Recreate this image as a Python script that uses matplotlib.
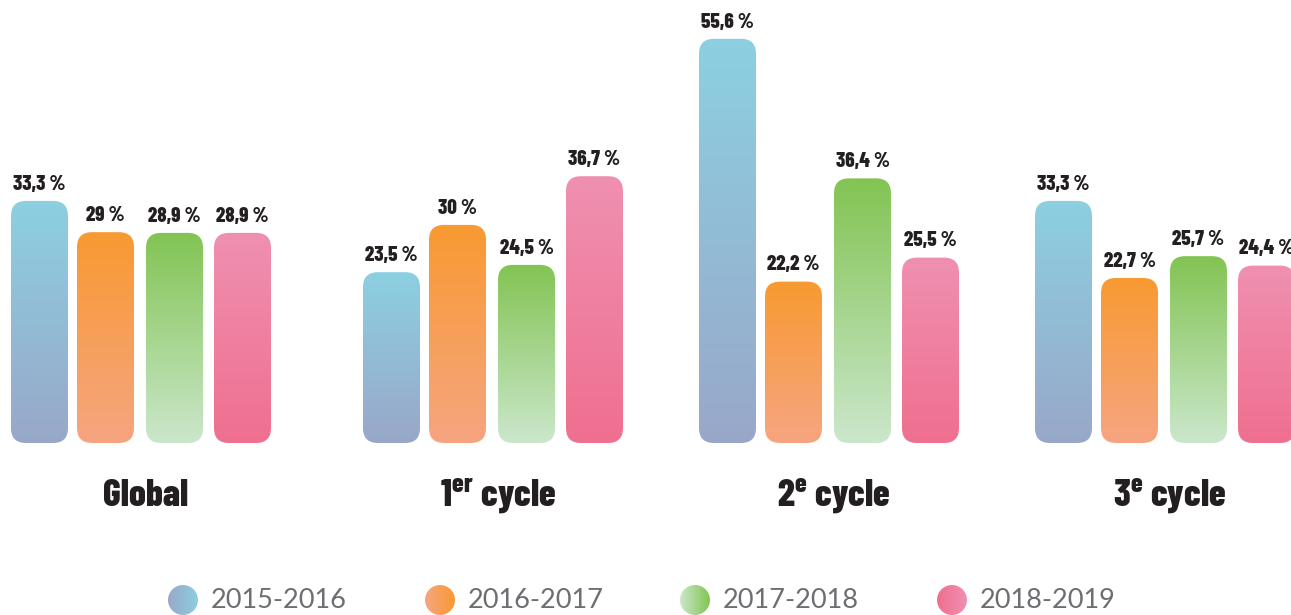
import numpy as np
import matplotlib
matplotlib.use("Agg")
import matplotlib.pyplot as plt
from matplotlib.patches import FancyBboxPatch, Ellipse
from matplotlib.colors import to_rgba

BOLD = "Barlow Condensed"
LIGHT = "Lato"
plt.rcParams["font.family"] = [BOLD, "DejaVu Sans"]
plt.rcParams["mathtext.fontset"] = "custom"
plt.rcParams["mathtext.bf"] = BOLD + ":heavy"
plt.rcParams["mathtext.rm"] = BOLD + ":heavy"

# données
categories = ["Global", r"$\mathbf{1^{er}}$ cycle", r"$\mathbf{2^{e}}$ cycle", r"$\mathbf{3^{e}}$ cycle"]
years = ["2015-2016", "2016-2017", "2017-2018", "2018-2019"]
v_2015 = [33.3, 23.5, 55.6, 33.3]
v_2016 = [29.0, 30.0, 22.2, 22.7]
v_2017 = [28.9, 24.5, 36.4, 25.7]
v_2018 = [28.9, 36.7, 25.5, 24.4]
series = [v_2015, v_2016, v_2017, v_2018]

# (haut, bas) du dégradé
grads = [("#8cd0e1", "#99a7c9"),
         ("#f89a31", "#f6a581"),
         ("#82c453", "#cbe7cb"),
         ("#ef90b1", "#f06f8f")]

PX = 7.27  # pixels par point de %
W, H = 1291, 615
BASE = 443

fig = plt.figure(figsize=(W / 100, H / 100), dpi=100)
ax = fig.add_axes([0, 0, 1, 1])
ax.axis("off")

bw = 57
group_x0 = [11, 363, 699, 1035]
bar_off = [0, 66, 135, 203]


def fmt(v):
    s = ("%.1f" % v).replace(".", ",")
    if s.endswith(",0"):
        s = s[:-2]
    return s + " %"


def grad_img(top, bottom, horizontal=False):
    t = np.array(to_rgba(top))
    b = np.array(to_rgba(bottom))
    f = np.linspace(0, 1, 256)[:, None]
    img = t * (1 - f) + b * f
    if horizontal:
        return img[::-1][None, :, :]
    return img[:, None, :]


for g in range(len(categories)):
    for i, vals in enumerate(series):
        x = group_x0[g] + bar_off[i]
        v = vals[g]
        patch = FancyBboxPatch((x, 0), bw, v,
                               boxstyle="round,pad=0,rounding_size=15",
                               mutation_aspect=1 / PX,
                               facecolor="none", edgecolor="none")
        ax.add_patch(patch)
        im = ax.imshow(grad_img(*grads[i]), extent=(x, x + bw, 0, v),
                       aspect="auto", interpolation="bilinear", zorder=2)
        im.set_clip_path(patch)
        ax.text(x + bw / 2, v + 1.0, fmt(v), ha="center", va="bottom",
                fontsize=15, fontweight="heavy", color="#231f20")
    cx = group_x0[g] + (bar_off[0] + bar_off[3] + bw) / 2 + 5
    ax.text(cx, -7.3, categories[g], ha="center", va="center",
            fontsize=27, fontweight="heavy", color="#231f20")

# légende
leg_x = [183, 440, 695, 952]
cy = -(600 - BASE) / PX
for i, lbl in enumerate(years):
    cx = leg_x[i]
    e = Ellipse((cx, cy), 30, 30 / PX, facecolor="none", edgecolor="none")
    ax.add_patch(e)
    im = ax.imshow(grad_img(grads[i][0], grads[i][1], horizontal=True),
                   extent=(cx - 15, cx + 15, cy - 15 / PX, cy + 15 / PX),
                   aspect="auto", interpolation="bilinear", zorder=2)
    im.set_clip_path(e)
    ax.text(cx + 28, cy, lbl, ha="left", va="center", fontsize=19.5,
            family=LIGHT, color="#6d6e71")

ax.set_xlim(0, W)
ax.set_ylim(-(H - BASE) / PX, BASE / PX)
fig.savefig("out.png", dpi=100)
